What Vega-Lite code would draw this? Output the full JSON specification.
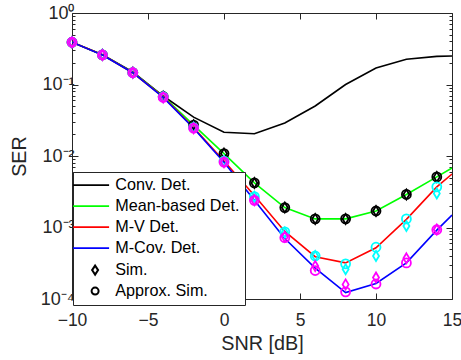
{
  "$schema": "https://vega.github.io/schema/vega-lite/v6.json",
  "width": 380,
  "height": 286,
  "autosize": {"type": "none"},
  "padding": {"left": 72, "top": 13, "right": 9, "bottom": 61},
  "background": "white",
  "config": {
    "font": "Liberation Sans",
    "view": {"stroke": "#262626", "strokeWidth": 1},
    "axis": {
      "grid": false,
      "domain": false,
      "tickColor": "#262626",
      "labelColor": "#262626",
      "titleColor": "#262626",
      "labelFontSize": 18,
      "titleFontSize": 19.8,
      "titleFontWeight": "normal",
      "tickWidth": 1
    }
  },
  "layer": [
    {
      "data": {
        "values": [
          {"snr": -10, "ser": 0.39, "detector": "Conv. Det."},
          {"snr": -8, "ser": 0.26, "detector": "Conv. Det."},
          {"snr": -6, "ser": 0.15, "detector": "Conv. Det."},
          {"snr": -4, "ser": 0.069, "detector": "Conv. Det."},
          {"snr": -2, "ser": 0.035, "detector": "Conv. Det."},
          {"snr": 0, "ser": 0.0215, "detector": "Conv. Det."},
          {"snr": 2, "ser": 0.0205, "detector": "Conv. Det."},
          {"snr": 4, "ser": 0.029, "detector": "Conv. Det."},
          {"snr": 6, "ser": 0.05, "detector": "Conv. Det."},
          {"snr": 8, "ser": 0.1, "detector": "Conv. Det."},
          {"snr": 10, "ser": 0.17, "detector": "Conv. Det."},
          {"snr": 12, "ser": 0.225, "detector": "Conv. Det."},
          {"snr": 14, "ser": 0.247, "detector": "Conv. Det."},
          {"snr": 15, "ser": 0.25, "detector": "Conv. Det."},
          {"snr": -10, "ser": 0.39, "detector": "Mean-based Det."},
          {"snr": -8, "ser": 0.26, "detector": "Mean-based Det."},
          {"snr": -6, "ser": 0.147, "detector": "Mean-based Det."},
          {"snr": -4, "ser": 0.068, "detector": "Mean-based Det."},
          {"snr": -2, "ser": 0.027, "detector": "Mean-based Det."},
          {"snr": 0, "ser": 0.0108, "detector": "Mean-based Det."},
          {"snr": 2, "ser": 0.0042, "detector": "Mean-based Det."},
          {"snr": 4, "ser": 0.0019, "detector": "Mean-based Det."},
          {"snr": 6, "ser": 0.00132, "detector": "Mean-based Det."},
          {"snr": 8, "ser": 0.00132, "detector": "Mean-based Det."},
          {"snr": 10, "ser": 0.0017, "detector": "Mean-based Det."},
          {"snr": 12, "ser": 0.0029, "detector": "Mean-based Det."},
          {"snr": 14, "ser": 0.0051, "detector": "Mean-based Det."},
          {"snr": 15, "ser": 0.0068, "detector": "Mean-based Det."},
          {"snr": -10, "ser": 0.39, "detector": "M-V Det."},
          {"snr": -8, "ser": 0.26, "detector": "M-V Det."},
          {"snr": -6, "ser": 0.146, "detector": "M-V Det."},
          {"snr": -4, "ser": 0.067, "detector": "M-V Det."},
          {"snr": -2, "ser": 0.025, "detector": "M-V Det."},
          {"snr": 0, "ser": 0.0085, "detector": "M-V Det."},
          {"snr": 2, "ser": 0.0028, "detector": "M-V Det."},
          {"snr": 4, "ser": 0.00088, "detector": "M-V Det."},
          {"snr": 6, "ser": 0.00039, "detector": "M-V Det."},
          {"snr": 8, "ser": 0.00032, "detector": "M-V Det."},
          {"snr": 10, "ser": 0.00052, "detector": "M-V Det."},
          {"snr": 12, "ser": 0.0013, "detector": "M-V Det."},
          {"snr": 14, "ser": 0.0037, "detector": "M-V Det."},
          {"snr": 15, "ser": 0.0056, "detector": "M-V Det."},
          {"snr": -10, "ser": 0.39, "detector": "M-Cov. Det."},
          {"snr": -8, "ser": 0.259, "detector": "M-Cov. Det."},
          {"snr": -6, "ser": 0.146, "detector": "M-Cov. Det."},
          {"snr": -4, "ser": 0.066, "detector": "M-Cov. Det."},
          {"snr": -2, "ser": 0.0245, "detector": "M-Cov. Det."},
          {"snr": 0, "ser": 0.0082, "detector": "M-Cov. Det."},
          {"snr": 2, "ser": 0.0024, "detector": "M-Cov. Det."},
          {"snr": 4, "ser": 0.0007, "detector": "M-Cov. Det."},
          {"snr": 6, "ser": 0.00027, "detector": "M-Cov. Det."},
          {"snr": 8, "ser": 0.000123, "detector": "M-Cov. Det."},
          {"snr": 10, "ser": 0.000165, "detector": "M-Cov. Det."},
          {"snr": 12, "ser": 0.00032, "detector": "M-Cov. Det."},
          {"snr": 14, "ser": 0.00092, "detector": "M-Cov. Det."},
          {"snr": 15, "ser": 0.00149, "detector": "M-Cov. Det."}
        ]
      },
      "mark": {"type": "line", "strokeWidth": 1.6, "clip": true},
      "encoding": {
        "x": {
          "field": "snr",
          "type": "quantitative",
          "scale": {"domain": [-10, 15], "nice": false, "zero": false},
          "axis": {
            "orient": "bottom",
            "values": [-10, -5, 0, 5, 10, 15],
            "tickSize": -6,
            "labelPadding": 18,
            "labelFontSize": 17.5,
            "labelFlush": false,
            "title": "SNR [dB]",
            "titlePadding": 5
          }
        },
        "y": {
          "field": "ser",
          "type": "quantitative",
          "scale": {"type": "log", "domain": [0.0001, 1], "nice": false},
          "axis": {
            "orient": "left",
            "values": [0.0001, 0.0002, 0.0003, 0.0004, 0.0005, 0.0006, 0.0007, 0.0008, 0.0009, 0.001, 0.002, 0.003, 0.004, 0.005, 0.006, 0.007, 0.008, 0.009, 0.01, 0.02, 0.03, 0.04, 0.05, 0.06, 0.07, 0.08, 0.09, 0.1, 0.2, 0.3, 0.4, 0.5, 0.6, 0.7, 0.8, 0.9, 1],
            "tickSize": {"condition": {"test": "abs(log(datum.value)/LN10 - round(log(datum.value)/LN10)) < 0.01", "value": -6}, "value": -3},
            "labelExpr": "abs(log(datum.value)/LN10 - round(log(datum.value)/LN10)) < 0.01 ? (round(log(datum.value)/LN10) == 0 ? '10⁰' : round(log(datum.value)/LN10) == -1 ? '10⁻¹' : round(log(datum.value)/LN10) == -2 ? '10⁻²' : round(log(datum.value)/LN10) == -3 ? '10⁻³' : '10⁻⁴') : ''",
            "labelPadding": 4,
            "labelFlush": false,
            "labelOverlap": false,
            "title": "SER",
            "titlePadding": 11
          }
        },
        "color": {
          "field": "detector",
          "type": "nominal",
          "scale": {
            "domain": ["Conv. Det.", "Mean-based Det.", "M-V Det.", "M-Cov. Det.", "Sim.", "Approx. Sim."],
            "range": ["#000000", "#00ff00", "#ff0000", "#0000ff", "#000000", "#000000"]
          },
          "legend": {
            "orient": "none",
            "legendX": 1,
            "legendY": 159,
            "title": null,
            "labelFontSize": 16.2,
            "labelColor": "#000000",
            "labelOffset": 21,
            "labelLimit": 300,
            "padding": 5,
            "rowPadding": 4,
            "strokeColor": "#262626",
            "fillColor": "white",
            "symbolSize": 100,
            "symbolStrokeWidth": 1.6,
            "encode": {
              "symbols": {
                "update": {
                  "shape": {"signal": "datum.value === 'Sim.' ? 'M1.8,-0.9L2.4,0L1.8,0.9L1.2,0Z' : datum.value === 'Approx. Sim.' ? 'M2.5,0A0.7,0.7,0,1,1,1.1,0A0.7,0.7,0,1,1,2.5,0Z' : 'M-2.6,0L4.6,0'"},
                  "strokeWidth": {"signal": "(datum.value === 'Sim.' || datum.value === 'Approx. Sim.') ? 2 : 1.6"},
                  "fill": {"value": "transparent"},
                  "opacity": {"value": 1}
                }
              }
            }
          }
        }
      }
    },
    {
      "data": {
        "values": [
          {"snr": -10, "ser": 0.39, "detector": "Mean-based Det.", "type": "Sim."},
          {"snr": -8, "ser": 0.26, "detector": "Mean-based Det.", "type": "Sim."},
          {"snr": -6, "ser": 0.147, "detector": "Mean-based Det.", "type": "Sim."},
          {"snr": -4, "ser": 0.068, "detector": "Mean-based Det.", "type": "Sim."},
          {"snr": -2, "ser": 0.027, "detector": "Mean-based Det.", "type": "Sim."},
          {"snr": 0, "ser": 0.0108, "detector": "Mean-based Det.", "type": "Sim."},
          {"snr": 2, "ser": 0.0042, "detector": "Mean-based Det.", "type": "Sim."},
          {"snr": 4, "ser": 0.0019, "detector": "Mean-based Det.", "type": "Sim."},
          {"snr": 6, "ser": 0.00132, "detector": "Mean-based Det.", "type": "Sim."},
          {"snr": 8, "ser": 0.00132, "detector": "Mean-based Det.", "type": "Sim."},
          {"snr": 10, "ser": 0.0017, "detector": "Mean-based Det.", "type": "Sim."},
          {"snr": 12, "ser": 0.0029, "detector": "Mean-based Det.", "type": "Sim."},
          {"snr": 14, "ser": 0.0051, "detector": "Mean-based Det.", "type": "Sim."},
          {"snr": -10, "ser": 0.39, "detector": "Mean-based Det.", "type": "Approx. Sim."},
          {"snr": -8, "ser": 0.26, "detector": "Mean-based Det.", "type": "Approx. Sim."},
          {"snr": -6, "ser": 0.147, "detector": "Mean-based Det.", "type": "Approx. Sim."},
          {"snr": -4, "ser": 0.068, "detector": "Mean-based Det.", "type": "Approx. Sim."},
          {"snr": -2, "ser": 0.027, "detector": "Mean-based Det.", "type": "Approx. Sim."},
          {"snr": 0, "ser": 0.0108, "detector": "Mean-based Det.", "type": "Approx. Sim."},
          {"snr": 2, "ser": 0.0042, "detector": "Mean-based Det.", "type": "Approx. Sim."},
          {"snr": 4, "ser": 0.0019, "detector": "Mean-based Det.", "type": "Approx. Sim."},
          {"snr": 6, "ser": 0.00132, "detector": "Mean-based Det.", "type": "Approx. Sim."},
          {"snr": 8, "ser": 0.00132, "detector": "Mean-based Det.", "type": "Approx. Sim."},
          {"snr": 10, "ser": 0.0017, "detector": "Mean-based Det.", "type": "Approx. Sim."},
          {"snr": 12, "ser": 0.0029, "detector": "Mean-based Det.", "type": "Approx. Sim."},
          {"snr": 14, "ser": 0.0051, "detector": "Mean-based Det.", "type": "Approx. Sim."},
          {"snr": -10, "ser": 0.39, "detector": "M-V Det.", "type": "Sim."},
          {"snr": -8, "ser": 0.26, "detector": "M-V Det.", "type": "Sim."},
          {"snr": -6, "ser": 0.146, "detector": "M-V Det.", "type": "Sim."},
          {"snr": -4, "ser": 0.067, "detector": "M-V Det.", "type": "Sim."},
          {"snr": -2, "ser": 0.025, "detector": "M-V Det.", "type": "Sim."},
          {"snr": 0, "ser": 0.0085, "detector": "M-V Det.", "type": "Sim."},
          {"snr": 2, "ser": 0.0027, "detector": "M-V Det.", "type": "Sim."},
          {"snr": 4, "ser": 0.00085, "detector": "M-V Det.", "type": "Sim."},
          {"snr": 6, "ser": 0.0004, "detector": "M-V Det.", "type": "Sim."},
          {"snr": 8, "ser": 0.00026, "detector": "M-V Det.", "type": "Sim."},
          {"snr": 10, "ser": 0.0004, "detector": "M-V Det.", "type": "Sim."},
          {"snr": 12, "ser": 0.00105, "detector": "M-V Det.", "type": "Sim."},
          {"snr": 14, "ser": 0.003, "detector": "M-V Det.", "type": "Sim."},
          {"snr": -10, "ser": 0.39, "detector": "M-V Det.", "type": "Approx. Sim."},
          {"snr": -8, "ser": 0.26, "detector": "M-V Det.", "type": "Approx. Sim."},
          {"snr": -6, "ser": 0.146, "detector": "M-V Det.", "type": "Approx. Sim."},
          {"snr": -4, "ser": 0.067, "detector": "M-V Det.", "type": "Approx. Sim."},
          {"snr": -2, "ser": 0.025, "detector": "M-V Det.", "type": "Approx. Sim."},
          {"snr": 0, "ser": 0.0085, "detector": "M-V Det.", "type": "Approx. Sim."},
          {"snr": 2, "ser": 0.0027, "detector": "M-V Det.", "type": "Approx. Sim."},
          {"snr": 4, "ser": 0.00087, "detector": "M-V Det.", "type": "Approx. Sim."},
          {"snr": 6, "ser": 0.0004, "detector": "M-V Det.", "type": "Approx. Sim."},
          {"snr": 8, "ser": 0.00031, "detector": "M-V Det.", "type": "Approx. Sim."},
          {"snr": 10, "ser": 0.00053, "detector": "M-V Det.", "type": "Approx. Sim."},
          {"snr": 12, "ser": 0.00132, "detector": "M-V Det.", "type": "Approx. Sim."},
          {"snr": 14, "ser": 0.0037, "detector": "M-V Det.", "type": "Approx. Sim."},
          {"snr": -10, "ser": 0.39, "detector": "M-Cov. Det.", "type": "Sim."},
          {"snr": -8, "ser": 0.259, "detector": "M-Cov. Det.", "type": "Sim."},
          {"snr": -6, "ser": 0.146, "detector": "M-Cov. Det.", "type": "Sim."},
          {"snr": -4, "ser": 0.066, "detector": "M-Cov. Det.", "type": "Sim."},
          {"snr": -2, "ser": 0.0245, "detector": "M-Cov. Det.", "type": "Sim."},
          {"snr": 0, "ser": 0.0082, "detector": "M-Cov. Det.", "type": "Sim."},
          {"snr": 2, "ser": 0.0024, "detector": "M-Cov. Det.", "type": "Sim."},
          {"snr": 4, "ser": 0.00074, "detector": "M-Cov. Det.", "type": "Sim."},
          {"snr": 6, "ser": 0.00029, "detector": "M-Cov. Det.", "type": "Sim."},
          {"snr": 8, "ser": 0.00016, "detector": "M-Cov. Det.", "type": "Sim."},
          {"snr": 10, "ser": 0.0002, "detector": "M-Cov. Det.", "type": "Sim."},
          {"snr": 12, "ser": 0.00037, "detector": "M-Cov. Det.", "type": "Sim."},
          {"snr": 14, "ser": 0.00094, "detector": "M-Cov. Det.", "type": "Sim."},
          {"snr": -10, "ser": 0.39, "detector": "M-Cov. Det.", "type": "Approx. Sim."},
          {"snr": -8, "ser": 0.259, "detector": "M-Cov. Det.", "type": "Approx. Sim."},
          {"snr": -6, "ser": 0.146, "detector": "M-Cov. Det.", "type": "Approx. Sim."},
          {"snr": -4, "ser": 0.066, "detector": "M-Cov. Det.", "type": "Approx. Sim."},
          {"snr": -2, "ser": 0.0245, "detector": "M-Cov. Det.", "type": "Approx. Sim."},
          {"snr": 0, "ser": 0.0082, "detector": "M-Cov. Det.", "type": "Approx. Sim."},
          {"snr": 2, "ser": 0.0024, "detector": "M-Cov. Det.", "type": "Approx. Sim."},
          {"snr": 4, "ser": 0.00072, "detector": "M-Cov. Det.", "type": "Approx. Sim."},
          {"snr": 6, "ser": 0.00025, "detector": "M-Cov. Det.", "type": "Approx. Sim."},
          {"snr": 8, "ser": 0.000126, "detector": "M-Cov. Det.", "type": "Approx. Sim."},
          {"snr": 10, "ser": 0.000162, "detector": "M-Cov. Det.", "type": "Approx. Sim."},
          {"snr": 12, "ser": 0.00032, "detector": "M-Cov. Det.", "type": "Approx. Sim."},
          {"snr": 14, "ser": 0.00093, "detector": "M-Cov. Det.", "type": "Approx. Sim."}
        ]
      },
      "mark": {"type": "point", "filled": false, "size": 100, "strokeWidth": 1.8, "opacity": 1},
      "encoding": {
        "x": {
          "field": "snr",
          "type": "quantitative",
          "axis": {"orient": "top", "values": [-10, -5, 0, 5, 10, 15], "tickSize": -6, "labels": false, "title": null}
        },
        "y": {
          "field": "ser",
          "type": "quantitative",
          "axis": {
            "orient": "right",
            "values": [0.0001, 0.0002, 0.0003, 0.0004, 0.0005, 0.0006, 0.0007, 0.0008, 0.0009, 0.001, 0.002, 0.003, 0.004, 0.005, 0.006, 0.007, 0.008, 0.009, 0.01, 0.02, 0.03, 0.04, 0.05, 0.06, 0.07, 0.08, 0.09, 0.1, 0.2, 0.3, 0.4, 0.5, 0.6, 0.7, 0.8, 0.9, 1],
            "tickSize": {"condition": {"test": "abs(log(datum.value)/LN10 - round(log(datum.value)/LN10)) < 0.01", "value": -6}, "value": -3},
            "labels": false,
            "title": null
          }
        },
        "stroke": {
          "field": "detector",
          "type": "nominal",
          "scale": {"domain": ["Mean-based Det.", "M-V Det.", "M-Cov. Det."], "range": ["#000000", "#00ffff", "#ff00ff"]},
          "legend": null
        },
        "shape": {
          "field": "type",
          "type": "nominal",
          "scale": {"domain": ["Sim.", "Approx. Sim."], "range": ["M0,-1L0.6,0L0,1L-0.6,0Z", "M0.9,0A0.9,0.9,0,1,1,-0.9,0A0.9,0.9,0,1,1,0.9,0Z"]},
          "legend": null
        }
      }
    }
  ],
  "resolve": {"axis": {"x": "independent", "y": "independent"}}
}
